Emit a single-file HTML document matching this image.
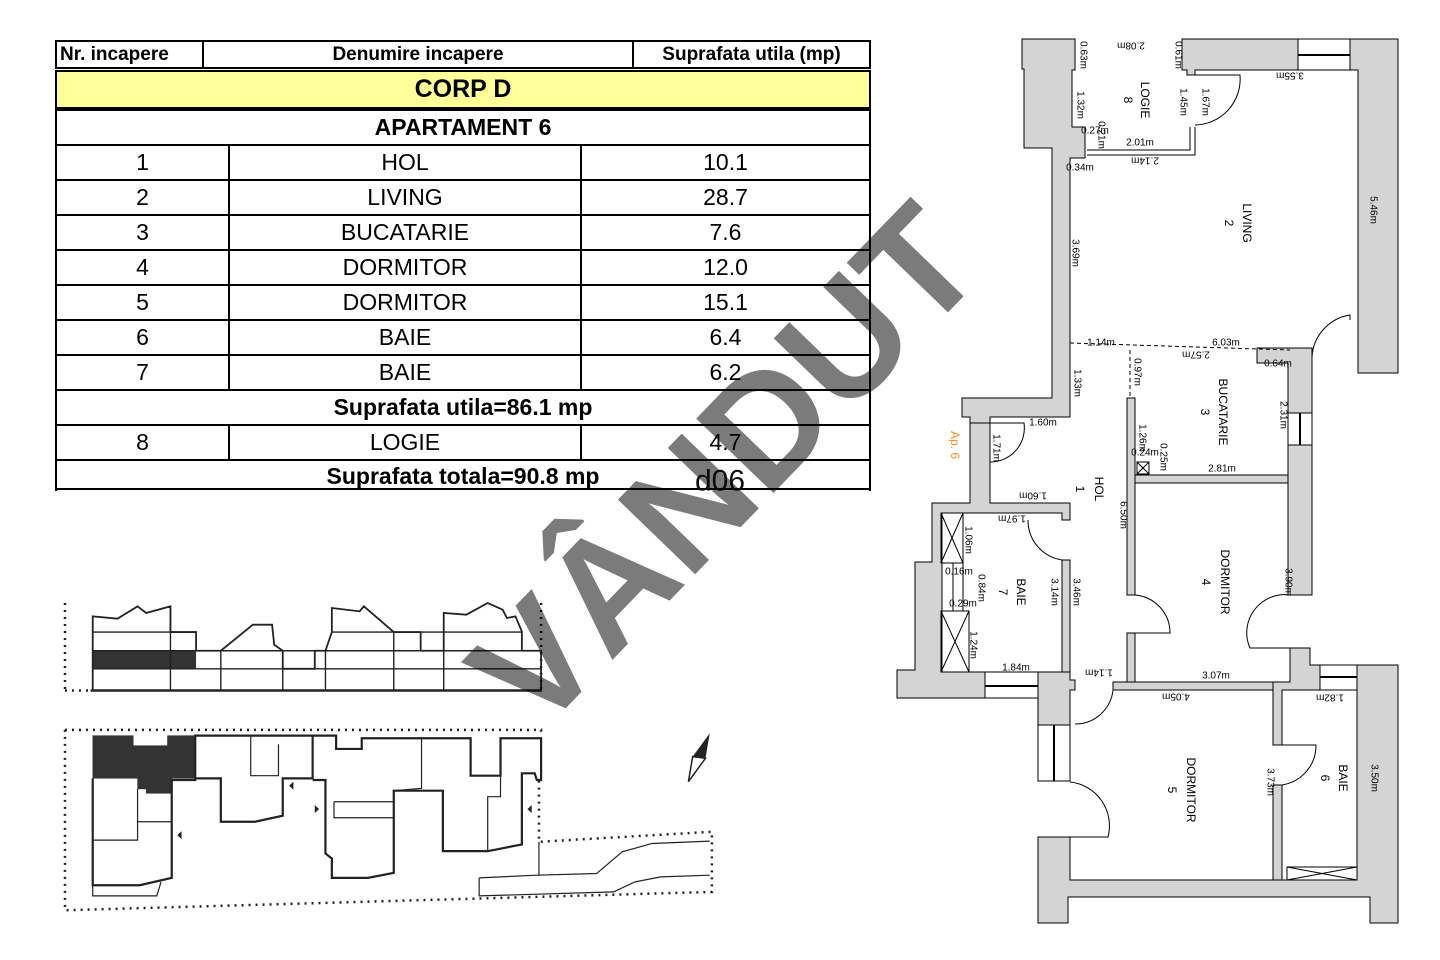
<!DOCTYPE html>
<html><head><meta charset="utf-8"><style>
html,body{margin:0;padding:0;background:#fff;}
body{width:1440px;height:960px;position:relative;overflow:hidden;font-family:"Liberation Sans",Arial,sans-serif;}
.t{position:absolute;border-collapse:collapse;}
.t td{border:2px solid #000;text-align:center;padding:0;color:#000;}
svg{position:absolute;left:0;top:0;}
</style></head><body>
<table class="t" style="left:55px;top:40px;width:816px;">
<tr style="height:27px;font-weight:bold;font-size:19px;"><td style="width:142px;text-align:left;padding-left:3px;">Nr. incapere</td><td style="width:428px;">Denumire incapere</td><td>Suprafata utila (mp)</td></tr>
</table>
<div style="position:absolute;left:55px;top:70px;width:812px;height:35px;background:#ffff99;border:2px solid #000;font-weight:bold;font-size:25px;text-align:center;line-height:35px;">CORP D</div>
<table class="t" style="left:55px;top:109px;width:816px;font-size:23px;">
<tr style="height:35px;font-weight:bold;"><td colspan="3">APARTAMENT 6</td></tr>
<tr style="height:35px;"><td style="width:171px;">1</td><td style="width:350px;">HOL</td><td>10.1</td></tr>
<tr style="height:35px;"><td>2</td><td>LIVING</td><td>28.7</td></tr>
<tr style="height:35px;"><td>3</td><td>BUCATARIE</td><td>7.6</td></tr>
<tr style="height:35px;"><td>4</td><td>DORMITOR</td><td>12.0</td></tr>
<tr style="height:35px;"><td>5</td><td>DORMITOR</td><td>15.1</td></tr>
<tr style="height:35px;"><td>6</td><td>BAIE</td><td>6.4</td></tr>
<tr style="height:35px;"><td>7</td><td>BAIE</td><td>6.2</td></tr>
<tr style="height:35px;font-weight:bold;"><td colspan="3">Suprafata utila=86.1 mp</td></tr>
<tr style="height:35px;"><td>8</td><td>LOGIE</td><td>4.7</td></tr>
<tr style="height:31px;font-weight:bold;"><td colspan="3" style="border-bottom:none;">Suprafata totala=90.8 mp</td></tr>
</table>
<div style="position:absolute;left:55px;top:488px;width:816px;height:2px;background:#000;"></div>

<svg width="1440" height="960" viewBox="0 0 1440 960">
<!-- site plan -->
<g transform="matrix(0.427,0,0,0.334,54.3,591.3)" fill="none" stroke="#222">
<g stroke-width="2.5" vector-effect="non-scaling-stroke">
<line x1="25" y1="35" x2="25" y2="295" stroke-dasharray="2 5" stroke-width="2.5" vector-effect="non-scaling-stroke"/>
<line x1="25" y1="297" x2="85" y2="297" stroke-dasharray="2 5" stroke-width="2.5" vector-effect="non-scaling-stroke"/>
<line x1="1140" y1="35" x2="1140" y2="295" stroke-dasharray="2 5" stroke-width="2.5" vector-effect="non-scaling-stroke"/>
<rect x="90" y="178" width="242" height="54" fill="#333" stroke="none"/>
<polyline vector-effect="non-scaling-stroke" stroke-width="1.8" points="90,297 90,75 148,82 195,45 215,65 272,45 272,122 332,122 332,178 390,178 465,100 510,100 515,160 535,178 535,232 610,232 610,178 635,178 650,122 650,50 715,60 725,45 795,122 858,122 858,178 912,178 912,65 965,70 1015,35 1050,55 1060,80 1080,75 1095,120 1095,178 1140,178 1140,297"/>
<line vector-effect="non-scaling-stroke" stroke-width="2.5" x1="85" y1="297" x2="1142" y2="297"/>
<g vector-effect="non-scaling-stroke" stroke-width="1.4">
<line vector-effect="non-scaling-stroke" x1="90" y1="122" x2="332" y2="122"/>
<line vector-effect="non-scaling-stroke" x1="650" y1="122" x2="795" y2="122"/>
<line vector-effect="non-scaling-stroke" x1="858" y1="122" x2="1095" y2="122"/>
<line vector-effect="non-scaling-stroke" x1="90" y1="178" x2="1140" y2="178"/>
<line vector-effect="non-scaling-stroke" x1="90" y1="232" x2="1140" y2="232"/>
<line vector-effect="non-scaling-stroke" x1="272" y1="45" x2="272" y2="297"/>
<line vector-effect="non-scaling-stroke" x1="390" y1="178" x2="390" y2="297"/>
<line vector-effect="non-scaling-stroke" x1="535" y1="178" x2="535" y2="297"/>
<line vector-effect="non-scaling-stroke" x1="635" y1="178" x2="635" y2="297"/>
<line vector-effect="non-scaling-stroke" x1="795" y1="122" x2="795" y2="297"/>
<line vector-effect="non-scaling-stroke" x1="912" y1="178" x2="912" y2="297"/>
</g>
</g>
<g stroke-dasharray="2 5" stroke-width="2.5">
<polyline vector-effect="non-scaling-stroke" points="25,415 1140,415 1140,430"/>
<polyline vector-effect="non-scaling-stroke" points="25,415 25,955 1540,900 1540,720 1135,750 1135,560"/>
</g>
<polygon points="90,432 185,432 185,462 265,462 265,432 330,432 330,560 275,560 275,605 215,605 215,592 195,592 195,560 90,560" fill="#333" stroke="#222"/>
<g stroke-width="2.2">
<polyline vector-effect="non-scaling-stroke" points="90,560 90,880 200,880 275,858 275,565 330,565 330,432 605,432 605,560 535,560 535,672 470,690 390,690 390,560 330,560"/>
<polyline vector-effect="non-scaling-stroke" points="605,432 660,432 660,472 720,472 720,440 975,440 975,552 1045,552 1045,440 1140,440 1140,565 1130,565 1125,545 1095,545 1095,758 1015,778 910,778 910,597 795,597 795,843 735,858 650,858 650,800 635,785 635,565 605,565"/>
</g>
<g stroke-width="1.2">
<polyline vector-effect="non-scaling-stroke" points="90,745 195,745 195,592"/>
<polyline vector-effect="non-scaling-stroke" points="195,690 275,690"/>
<polyline vector-effect="non-scaling-stroke" points="90,880 90,912 240,912 250,870"/>
<polyline vector-effect="non-scaling-stroke" points="860,440 860,590 795,597"/>
<polyline vector-effect="non-scaling-stroke" points="655,630 795,630 795,678 655,678 655,630"/>
<polyline vector-effect="non-scaling-stroke" points="1045,552 1045,615 1015,615 1015,778"/>
<polyline vector-effect="non-scaling-stroke" points="460,432 460,552 525,552 525,458"/>
<polyline vector-effect="non-scaling-stroke" points="995,858 1130,850 1270,845 1330,780 1400,755 1535,748"/>
<polyline vector-effect="non-scaling-stroke" points="995,858 995,912 1310,900 1360,870 1420,855 1535,850"/>
<line vector-effect="non-scaling-stroke" x1="1135" y1="750" x2="1135" y2="852"/>
</g>
<g fill="#222" stroke="none">
<polygon points="298,718 288,730 298,742"/><polygon points="560,570 550,582 560,594"/><polygon points="610,640 620,652 610,664"/><polygon points="1118,640 1108,652 1118,664"/>
<polygon points="1535,425 1495,495 1525,500"/>
</g>
<polygon points="1495,495 1485,570 1525,500" fill="#fff" stroke="#222" stroke-width="1.5" vector-effect="non-scaling-stroke"/>
</g>

<!-- floor plan walls -->
<g fill="#d4d4d4" stroke="#000" stroke-width="1">
<polygon points="1022,39 1075,39 1075,70 1072,70 1072,127 1085,127 1085,158 1070,158 1070,417 990,417 990,423 970,423 970,417 962,417 962,398 1052,398 1052,148 1024,148 1024,69 1022,69"/>
<polygon points="1182,39 1298,39 1298,70 1195,70 1195,75 1187,75 1187,70 1182,70"/>
<polygon points="1350,39 1398,39 1398,373 1358,373 1358,70 1350,70"/>
<polygon points="1257,348 1312,348 1312,413 1288,413 1288,363 1257,363"/>
<rect x="1288" y="445" width="24" height="150"/>
<rect x="1127" y="398" width="8" height="197"/>
<rect x="1127" y="633" width="8" height="49"/>
<rect x="1135" y="475" width="153" height="8"/>
<rect x="1113" y="682" width="160" height="8"/>
<polygon points="1273,682 1290,682 1290,648 1310,648 1310,665 1320,665 1320,690 1282,690 1282,745 1273,745"/>
<rect x="1273" y="785" width="9" height="95"/>
<polygon points="970,423 990,423 990,503 1070,503 1070,520 1062,520 1062,513 942,513 942,672 985,672 985,698 897,698 897,670 915,670 915,562 932,562 932,503 970,503"/>
<rect x="1062" y="560" width="8" height="112"/>
<polygon points="1038,672 1070,672 1070,680 1075,680 1075,690 1070,690 1070,725 1038,725"/>
<polygon points="1038,837 1070,837 1070,880 1357,880 1357,665 1398,665 1398,923 1370,923 1370,897 1068,897 1068,923 1038,923"/>
</g>
<g fill="#fff" stroke="#000" stroke-width="1">
<rect x="1298" y="39" width="52" height="31"/><line x1="1298" y1="55" x2="1350" y2="55" stroke-width="2"/>
<rect x="1288" y="413" width="24" height="32"/><line x1="1300" y1="413" x2="1300" y2="445" stroke-width="2"/>
<rect x="985" y="672" width="53" height="26"/><line x1="985" y1="686" x2="1038" y2="686" stroke-width="2"/>
<rect x="1038" y="725" width="32" height="56"/><line x1="1054" y1="725" x2="1054" y2="781" stroke-width="2"/>
<rect x="1320" y="665" width="37" height="25"/><line x1="1320" y1="677" x2="1357" y2="677" stroke-width="2"/>
</g>
<g fill="none" stroke="#000" stroke-width="1">
<polyline points="1087,150 1190,150 1190,127"/><polyline points="1087,155 1195,155 1195,127"/>
<path d="M1195,75 L1240,75 A46,46 0 0 1 1195,125"/>
<path d="M1312,357 A45,45 0 0 1 1350,315 L1350,320"/>
<path d="M990,423 L1024,423 A34,34 0 0 1 990,462"/>
<path d="M1028,520 A40,40 0 0 0 1062,560"/>
<path d="M1135,595 A38,38 0 0 1 1170,633 L1135,633"/>
<path d="M1290,595 A38,38 0 0 0 1250,648 L1290,648"/>
<path d="M1113,690 A38,38 0 0 1 1075,724"/>
<path d="M1070,782 A44,44 0 0 1 1108,837 L1070,837"/>
<path d="M1282,745 L1316,745 A40,40 0 0 1 1282,785"/>
<line x1="1070" y1="343" x2="1290" y2="350" stroke-dasharray="4 3"/>
<line x1="1130" y1="350" x2="1130" y2="398" stroke-dasharray="4 3"/>
<rect x="941" y="513" width="22" height="50"/><line x1="941" y1="513" x2="963" y2="563"/><line x1="963" y1="513" x2="941" y2="563"/>
<rect x="941" y="611" width="28" height="61"/><line x1="941" y1="611" x2="969" y2="672"/><line x1="969" y1="611" x2="941" y2="672"/>
<rect x="953" y="563" width="10" height="48"/>
<rect x="1137" y="462" width="12" height="12"/><line x1="1137" y1="462" x2="1149" y2="474"/><line x1="1149" y1="462" x2="1137" y2="474"/>
<rect x="1287" y="867" width="70" height="13"/><line x1="1287" y1="867" x2="1357" y2="880"/><line x1="1357" y1="867" x2="1287" y2="880"/>
</g>
<g font-family="Liberation Sans, Arial, sans-serif" font-size="10" fill="#000" text-anchor="middle" dominant-baseline="central">
<text transform="translate(1083,55) rotate(90)">0.63m</text>
<text transform="translate(1131,45) rotate(180)">2.08m</text>
<text transform="translate(1178,55) rotate(90)">0.61m</text>
<text transform="translate(1290,75) rotate(180)">3.55m</text>
<text transform="translate(1145,100) rotate(90)" font-size="12">LOGIE</text>
<text transform="translate(1128,100) rotate(90)" font-size="12">8</text>
<text transform="translate(1080,105) rotate(90)">1.32m</text>
<text transform="translate(1183,102) rotate(90)">1.45m</text>
<text transform="translate(1205,102) rotate(90)">1.67m</text>
<text x="1095" y="131">0.27m</text>
<text transform="translate(1101,135) rotate(90)">0.21m</text>
<text x="1140" y="143">2.01m</text>
<text transform="translate(1145,160) rotate(180)">2.14m</text>
<text x="1080" y="168">0.34m</text>
<text transform="translate(1247,223) rotate(90)" font-size="12">LIVING</text>
<text transform="translate(1229,223) rotate(90)" font-size="12">2</text>
<text transform="translate(1075,253) rotate(90)">3.69m</text>
<text transform="translate(1373,210) rotate(90)">5.46m</text>
<text x="1101" y="343">1.14m</text>
<text x="1226" y="343">6.03m</text>
<text transform="translate(1196,354) rotate(180)">2.57m</text>
<text x="1278" y="364">0.64m</text>
<text transform="translate(1137,372) rotate(90)">0.97m</text>
<text transform="translate(1077,383) rotate(90)">1.33m</text>
<text transform="translate(1223,412) rotate(90)" font-size="12">BUCATARIE</text>
<text transform="translate(1205,412) rotate(90)" font-size="12">3</text>
<text transform="translate(1283,415) rotate(90)">2.31m</text>
<text x="1043" y="423">1.60m</text>
<text transform="translate(996,448) rotate(90)">1.71m</text>
<text transform="translate(955,445) rotate(90)" fill="#f08c1e" font-size="12">Ap. 6</text>
<text transform="translate(1142,438) rotate(90)">1.26m</text>
<text x="1145" y="453">0.24m</text>
<text transform="translate(1163,457) rotate(90)">0.25m</text>
<text x="1222" y="469">2.81m</text>
<text transform="translate(1099,489) rotate(90)" font-size="12">HOL</text>
<text transform="translate(1080,489) rotate(90)" font-size="12">1</text>
<text transform="translate(1033,495) rotate(180)">1.60m</text>
<text transform="translate(1012,518) rotate(180)">1.97m</text>
<text transform="translate(1123,515) rotate(90)">6.50m</text>
<text transform="translate(968,540) rotate(90)">1.06m</text>
<text x="959" y="572">0.16m</text>
<text transform="translate(981,588) rotate(90)">0.84m</text>
<text transform="translate(1021,592) rotate(90)" font-size="12">BAIE</text>
<text transform="translate(1003,592) rotate(90)" font-size="12">7</text>
<text transform="translate(1054,592) rotate(90)">3.14m</text>
<text transform="translate(1076,592) rotate(90)">3.46m</text>
<text x="963" y="604">0.29m</text>
<text transform="translate(973,645) rotate(90)">1.24m</text>
<text x="1016" y="668">1.84m</text>
<text transform="translate(1225,582) rotate(90)" font-size="12">DORMITOR</text>
<text transform="translate(1206,582) rotate(90)" font-size="12">4</text>
<text transform="translate(1288,582) rotate(90)">3.90m</text>
<text transform="translate(1099,672) rotate(180)">1.14m</text>
<text x="1216" y="676">3.07m</text>
<text transform="translate(1176,696) rotate(180)">4.05m</text>
<text transform="translate(1330,697) rotate(180)">1.82m</text>
<text transform="translate(1191,790) rotate(90)" font-size="12">DORMITOR</text>
<text transform="translate(1172,790) rotate(90)" font-size="12">5</text>
<text transform="translate(1270,782) rotate(90)">3.73m</text>
<text transform="translate(1343,778) rotate(90)" font-size="12">BAIE</text>
<text transform="translate(1325,778) rotate(90)" font-size="12">6</text>
<text transform="translate(1374,778) rotate(90)">3.50m</text>
</g>
<text x="720" y="481" font-family="Liberation Sans, Arial, sans-serif" font-size="30" text-anchor="middle" dominant-baseline="central" fill="#111">d06</text>
<text transform="translate(725,467) rotate(-46)" font-family="Liberation Sans, Arial, sans-serif" font-weight="bold" font-size="156" text-anchor="middle" dominant-baseline="central" fill="#7b7b7b" style="mix-blend-mode:multiply">VÂNDUT</text>
</svg>
</body></html>
